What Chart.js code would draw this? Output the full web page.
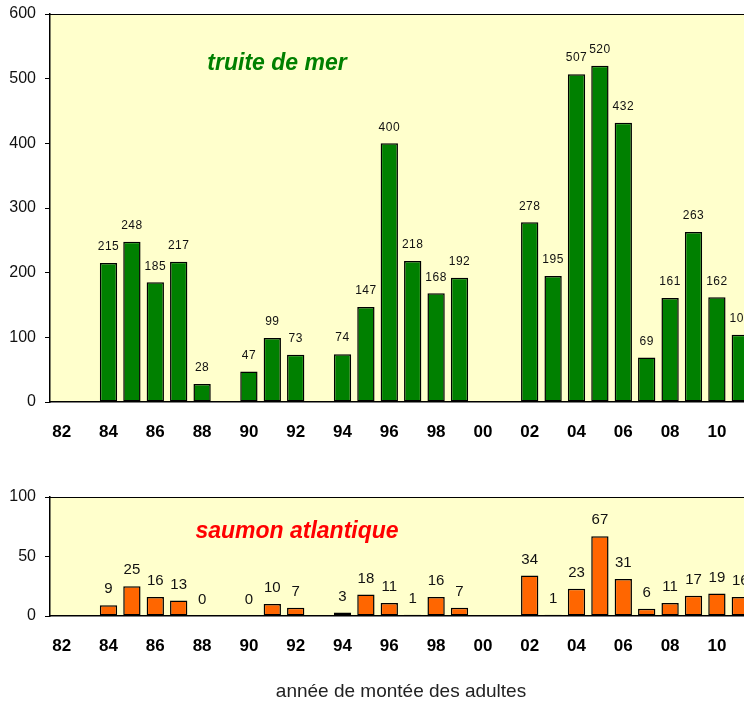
<!DOCTYPE html>
<html>
<head>
<meta charset="utf-8">
<script src="https://cdn.jsdelivr.net/npm/chart.js@4/dist/chart.umd.min.js"></script>
<style>
    html, body { margin: 0; padding: 0; background: #fff; overflow: hidden; width: 744px; height: 705px; }
    #wrap { position: relative; width: 744px; height: 705px; overflow: hidden; }
    #troutChart { position: absolute; left: 0; top: 0; }
    #salmonChart { position: absolute; left: 0; top: 480px; }
</style>
</head>
<body>
<div id="wrap">
    <canvas id="troutChart" width="800" height="450"></canvas>
    <canvas id="salmonChart" width="800" height="225"></canvas>
</div>
<script>
// Years of adult upstream migration (two-digit labels)
const years = ['82', '83', '84', '85', '86', '87', '88', '89', '90', '91', '92', '93', '94', '95', '96',
               '97', '98', '99', '00', '01', '02', '03', '04', '05', '06', '07', '08', '09', '10', '11'];

// Sea trout counts (null = no count that year)
const troutCounts = [null, null, 215, 248, 185, 217, 28, null, 47, 99, 73, null, 74, 147, 400,
                     218, 168, 192, null, null, 278, 195, 507, 520, 432, 69, 161, 263, 162, 104];

// Atlantic salmon counts
const salmonCounts = [null, null, 9, 25, 16, 13, 0, null, 0, 10, 7, null, 3, 18, 11,
                      1, 16, 7, null, null, 34, 1, 23, 67, 31, 6, 11, 17, 19, 16];

const troutTicks = [0, 100, 200, 300, 400, 500, 600];
const salmonTicks = [0, 50, 100];

const FONT = "'Liberation Sans', Arial, sans-serif";

// Plot background, frame, value labels and the species name inside the plot
const panelPlugin = {
    id: 'panel',
    beforeDraw(chart) {
        const a = chart.chartArea;
        const ctx = chart.ctx;
        ctx.save();
        ctx.fillStyle = '#FFFFCC';
        ctx.fillRect(a.left, a.top, a.right - a.left, a.bottom - a.top);
        ctx.restore();
    },
    afterDraw(chart) {
        const a = chart.chartArea;
        const ctx = chart.ctx;
        const opts = chart.options.plugins.panel;
        ctx.save();
        ctx.strokeStyle = '#000';
        ctx.lineWidth = 1;
        ctx.beginPath();
        ctx.moveTo(a.left, a.top + 0.5);
        ctx.lineTo(a.right, a.top + 0.5);
        ctx.stroke();

        // value labels above bars
        const meta = chart.getDatasetMeta(0);
        const values = chart.data.datasets[0].data;
        ctx.fillStyle = '#111';
        ctx.font = opts.labelFont;
        ctx.letterSpacing = opts.labelSpacing;
        ctx.textAlign = 'center';
        ctx.textBaseline = 'middle';
        meta.data.forEach((bar, i) => {
            if (values[i] === null) return;
            ctx.fillText(String(values[i]), bar.x, bar.y - opts.labelOffset);
        });

        // species title
        ctx.letterSpacing = '0px';
        ctx.font = 'italic bold 23px ' + FONT;
        ctx.fillStyle = opts.titleColor;
        ctx.fillText(opts.title, opts.titleX, opts.titleY);
        ctx.restore();
    }
};

function buildChart(canvasId, counts, ticks, cfg) {
    const ctx = document.getElementById(canvasId);
    return new Chart(ctx, {
        type: 'bar',
        data: {
            labels: years,
            datasets: [{
                data: counts,
                backgroundColor: cfg.color,
                borderColor: '#000',
                borderWidth: c => (c.raw === 0 ? 0 : 1.5),
                borderSkipped: false,
                barPercentage: 0.74,
                categoryPercentage: 1.0
            }]
        },
        options: {
            responsive: false,
            animation: false,
            layout: { padding: { top: cfg.padTop, left: 0, right: 48, bottom: 0 } },
            plugins: {
                legend: { display: false },
                tooltip: { enabled: false },
                panel: {
                    title: cfg.title,
                    titleColor: cfg.titleColor,
                    titleX: cfg.titleX,
                    titleY: cfg.titleY,
                    labelFont: cfg.labelFont,
                    labelSpacing: cfg.labelSpacing,
                    labelOffset: cfg.labelOffset
                }
            },
            scales: {
                x: {
                    afterFit: s => { s.height = cfg.xHeight; },
                    grid: { display: false, drawTicks: false },
                    border: { display: true, color: '#000', width: 1.5 },
                    ticks: {
                        autoSkip: false,
                        maxRotation: 0,
                        padding: cfg.xTickPad,
                        color: '#000',
                        font: { family: FONT, size: 17, weight: 'bold' },
                        callback: function(value, index) {
                            return index % 2 === 0 ? this.getLabelForValue(value) : '';
                        }
                    },
                    title: cfg.axisTitle ? {
                        display: true,
                        text: cfg.axisTitle,
                        color: '#222',
                        font: { family: FONT, size: 19 },
                        padding: { top: 0, bottom: 2 }
                    } : { display: false }
                },
                y: {
                    min: 0,
                    max: ticks[ticks.length - 1],
                    // fixed axis width; plot edges come from the layout padding only
                    afterFit: s => {
                        s.width = 50;
                        s.paddingTop = 0;
                        s.paddingBottom = 0;
                    },
                    afterBuildTicks: s => { s.ticks = ticks.map(v => ({ value: v })); },
                    grid: { drawOnChartArea: false, drawTicks: true, tickLength: 5, color: '#000' },
                    border: { display: true, color: '#000', width: 1.5 },
                    ticks: {
                        padding: 9,
                        color: '#111',
                        font: { family: FONT, size: 16 }
                    }
                }
            }
        },
        plugins: [panelPlugin]
    });
}

buildChart('troutChart', troutCounts, troutTicks, {
    color: '#008000',
    padTop: 14,
    xHeight: 48,
    xTickPad: 20,
    title: 'truite de mer',
    titleColor: '#008000',
    titleX: 277,
    titleY: 64,
    labelFont: '12px ' + FONT,
    labelSpacing: '0.5px',
    labelOffset: 16
});

buildChart('salmonChart', salmonCounts, salmonTicks, {
    color: '#FF6600',
    padTop: 17,
    xHeight: 89,
    xTickPad: 20,
    axisTitle: 'année de montée des adultes',
    title: 'saumon atlantique',
    titleColor: '#FF0000',
    titleX: 297,
    titleY: 52,
    labelFont: '15px ' + FONT,
    labelSpacing: '0px',
    labelOffset: 16
});
</script>
</body>
</html>
